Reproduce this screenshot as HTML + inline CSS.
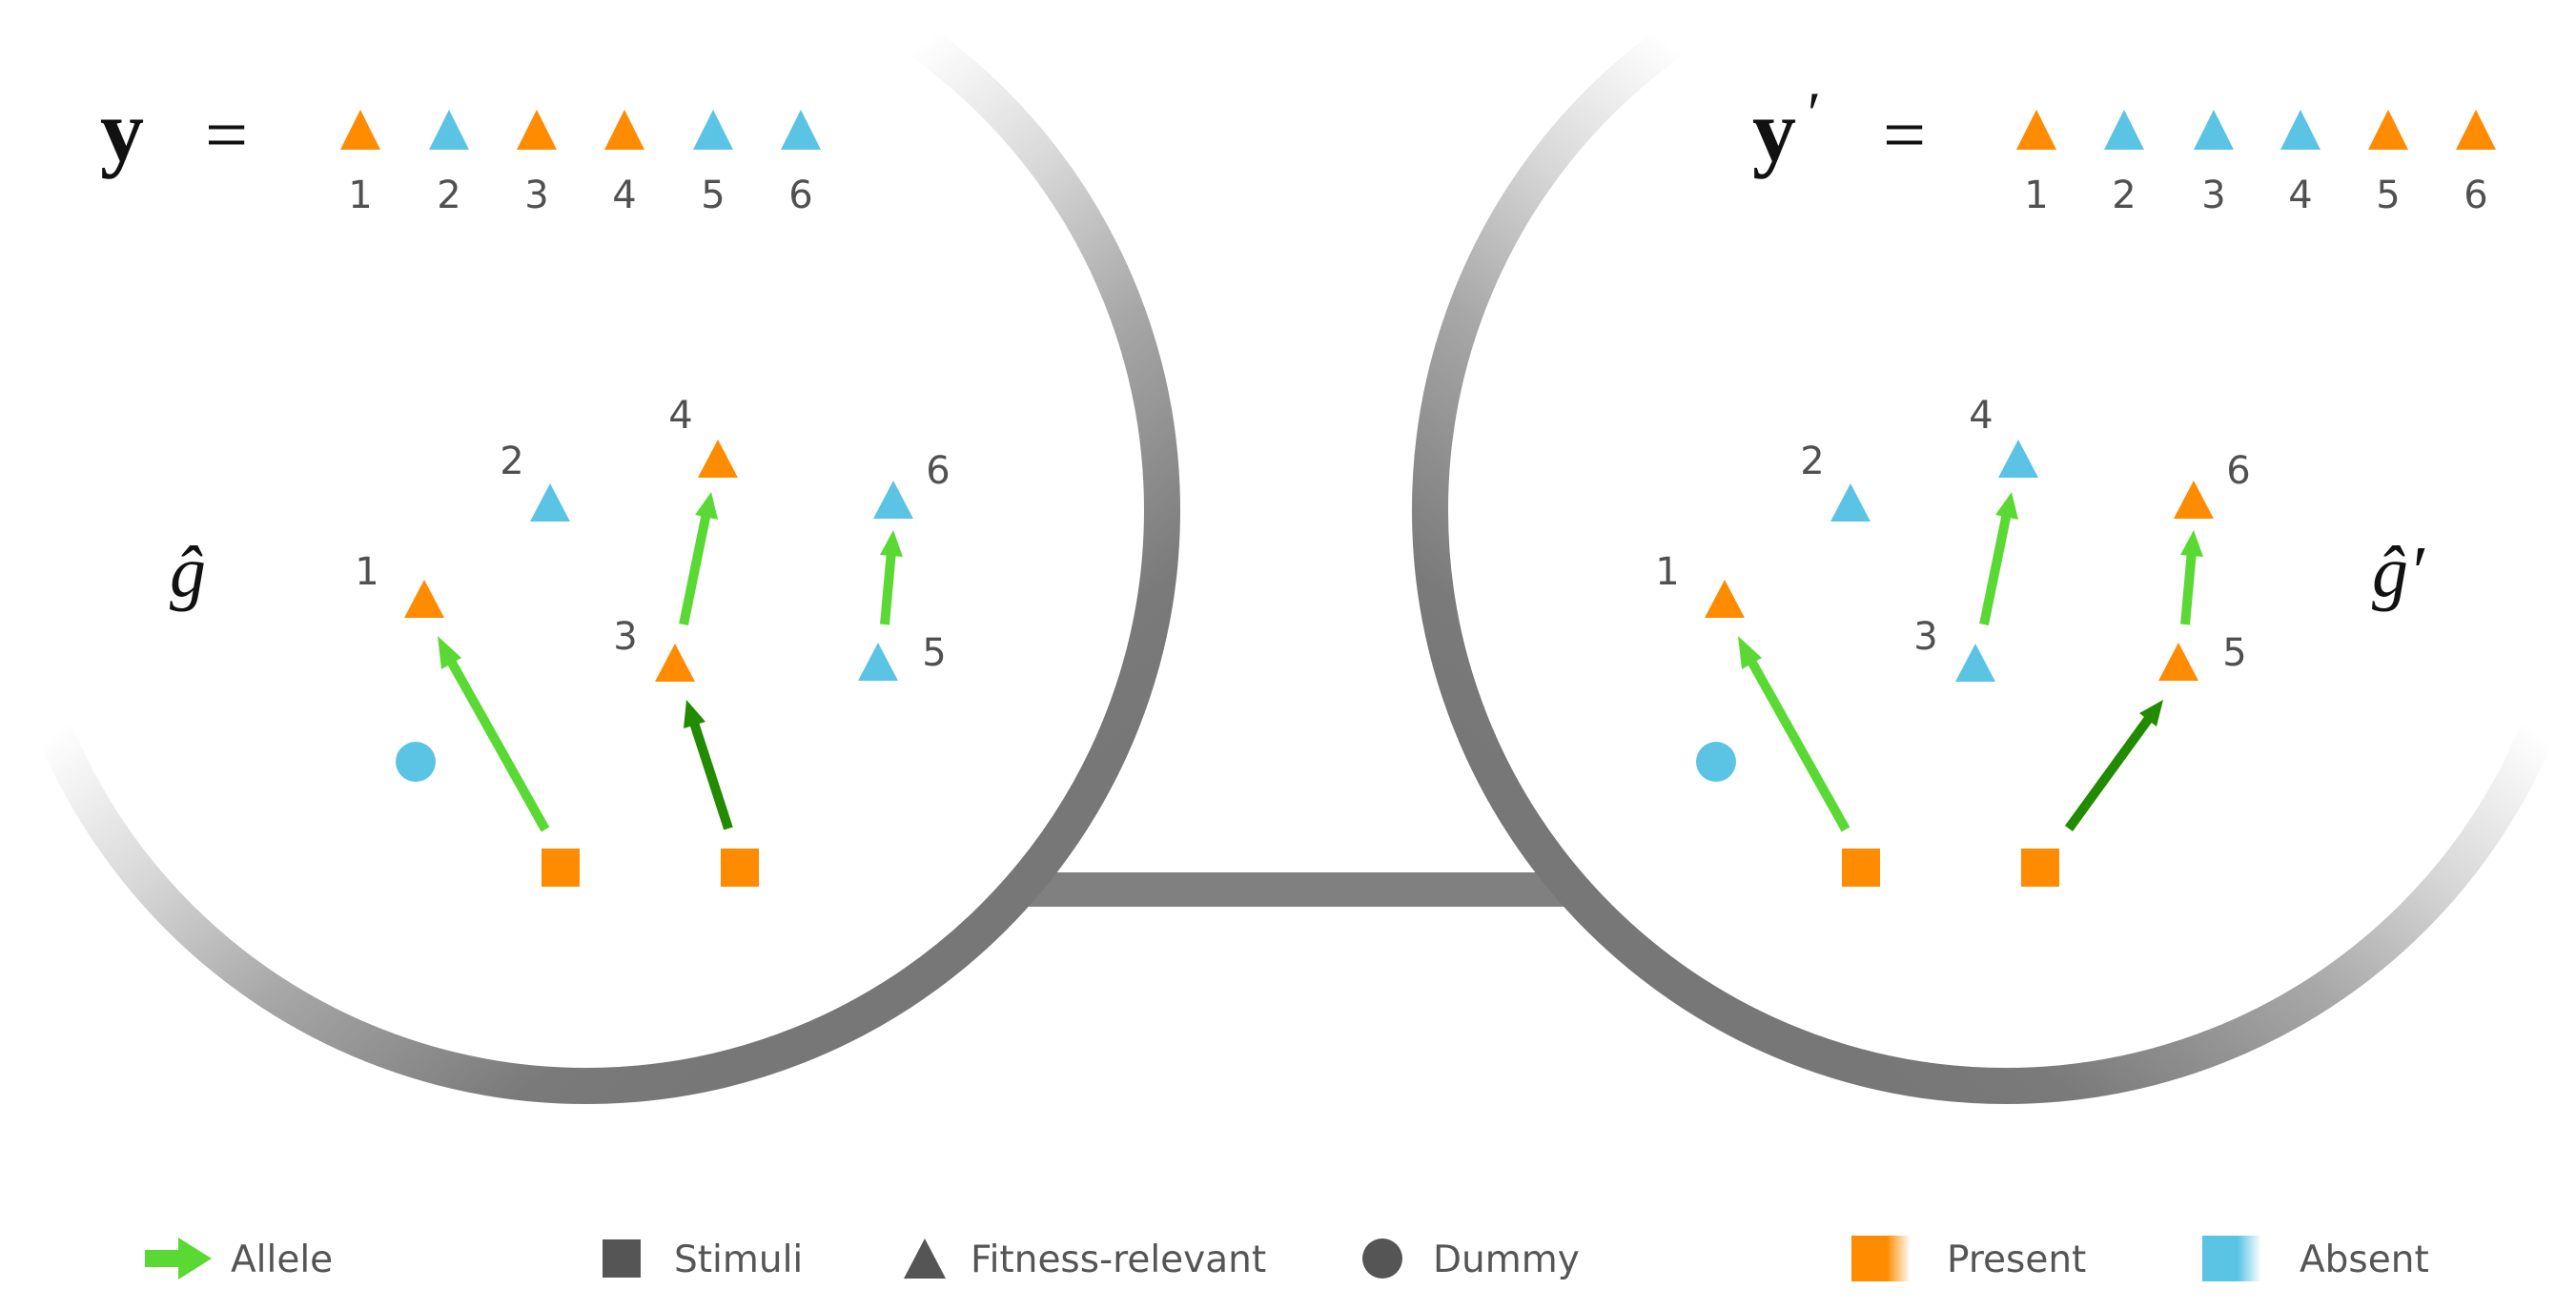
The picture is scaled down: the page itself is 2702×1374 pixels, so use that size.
<!DOCTYPE html>
<html><head><meta charset="utf-8"><style>
html,body{margin:0;padding:0;background:#fff}
svg{display:block}
.n{font-family:"DejaVu Sans","Liberation Sans",sans-serif;font-size:40px;fill:#505050;text-anchor:middle}
.l{font-family:"DejaVu Sans","Liberation Sans",sans-serif;font-size:39px;fill:#555}
.m{font-family:"Liberation Serif","DejaVu Serif",serif;fill:#111}
</style></head><body>
<svg width="2702" height="1374" viewBox="0 0 2702 1374" xmlns="http://www.w3.org/2000/svg">
<defs>
<linearGradient id="gl" gradientUnits="userSpaceOnUse" x1="397" y1="499" x2="837" y2="1053">
<stop offset="0" stop-color="#fff"/><stop offset="0.25" stop-color="#d8d8d8"/><stop offset="0.5" stop-color="#a8a8a8"/><stop offset="0.85" stop-color="#7a7a7a"/><stop offset="1" stop-color="#777"/></linearGradient>
<linearGradient id="gr" gradientUnits="userSpaceOnUse" x1="2322" y1="499" x2="1882" y2="1053">
<stop offset="0" stop-color="#fff"/><stop offset="0.25" stop-color="#d8d8d8"/><stop offset="0.5" stop-color="#a8a8a8"/><stop offset="0.85" stop-color="#7a7a7a"/><stop offset="1" stop-color="#777"/></linearGradient>
<linearGradient id="po" x1="0" x2="1"><stop offset="0.6" stop-color="#ff8c00"/><stop offset="1" stop-color="#ff8c00" stop-opacity="0"/></linearGradient>
<linearGradient id="pb" x1="0" x2="1"><stop offset="0.6" stop-color="#5bc4e5"/><stop offset="1" stop-color="#5bc4e5" stop-opacity="0"/></linearGradient>
</defs>
<rect x="1060" y="915" width="600" height="36" fill="#808080"/>
<circle cx="615" cy="535" r="604" fill="#fff" stroke="url(#gl)" stroke-width="38"/>
<circle cx="2104" cy="535" r="604" fill="#fff" stroke="url(#gr)" stroke-width="38"/>
<!-- top sequences -->
<text class="m" x="105" y="168" font-size="92" font-weight="bold">y</text>
<text class="m" x="215" y="168" font-size="80">=</text>
<text class="m" x="1838" y="168" font-size="92" font-weight="bold">y</text>
<text class="m" x="1892" y="140" font-size="64" font-style="italic">′</text>
<text class="m" x="1975" y="168" font-size="80">=</text>
<path d="M378,115 L399,157 L357,157Z" fill="#ff8c00"/>
<path d="M471,115 L492,157 L450,157Z" fill="#5bc4e5"/>
<path d="M563,115 L584,157 L542,157Z" fill="#ff8c00"/>
<path d="M655,115 L676,157 L634,157Z" fill="#ff8c00"/>
<path d="M748,115 L769,157 L727,157Z" fill="#5bc4e5"/>
<path d="M840,115 L861,157 L819,157Z" fill="#5bc4e5"/>
<text class="n" x="378" y="218">1</text><text class="n" x="471" y="218">2</text><text class="n" x="563" y="218">3</text><text class="n" x="655" y="218">4</text><text class="n" x="748" y="218">5</text><text class="n" x="840" y="218">6</text>
<g transform="translate(-8,0)">
<path d="M2144,115 L2165,157 L2123,157Z" fill="#ff8c00"/>
<path d="M2236,115 L2257,157 L2215,157Z" fill="#5bc4e5"/>
<path d="M2330,115 L2351,157 L2309,157Z" fill="#5bc4e5"/>
<path d="M2421,115 L2442,157 L2400,157Z" fill="#5bc4e5"/>
<path d="M2513,115 L2534,157 L2492,157Z" fill="#ff8c00"/>
<path d="M2605,115 L2626,157 L2584,157Z" fill="#ff8c00"/>
<text class="n" x="2144" y="218">1</text><text class="n" x="2236" y="218">2</text><text class="n" x="2330" y="218">3</text><text class="n" x="2421" y="218">4</text><text class="n" x="2513" y="218">5</text><text class="n" x="2605" y="218">6</text>
</g>
<!-- left graph -->
<text class="m" x="178" y="625" font-size="76" font-style="italic">ĝ</text>
<line x1="572" y1="870" x2="470" y2="688" stroke="#5ad934" stroke-width="10"/>
<path d="M459,667 L484,690 L463,702Z" fill="#5ad934"/>
<line x1="764" y1="869" x2="726" y2="752" stroke="#228b00" stroke-width="10"/>
<path d="M720,734 L740,757 L717,764Z" fill="#228b00"/>
<line x1="717" y1="655" x2="741" y2="538" stroke="#5ad934" stroke-width="10"/>
<path d="M746,516 L753,545 L729,540Z" fill="#5ad934"/>
<line x1="928" y1="655" x2="935" y2="578" stroke="#5ad934" stroke-width="10"/>
<path d="M937,556 L947,584 L923,582Z" fill="#5ad934"/>
<path d="M445,608 L466,648 L424,648Z" fill="#ff8c00"/>
<path d="M577,507 L598,547 L556,547Z" fill="#5bc4e5"/>
<path d="M753,461 L774,501 L732,501Z" fill="#ff8c00"/>
<path d="M708,675 L729,715 L687,715Z" fill="#ff8c00"/>
<path d="M937,504 L958,544 L916,544Z" fill="#5bc4e5"/>
<path d="M921,674 L942,714 L900,714Z" fill="#5bc4e5"/>
<circle cx="436" cy="799" r="21" fill="#5bc4e5"/>
<rect x="568" y="890" width="40" height="40" fill="#ff8c00"/>
<rect x="756" y="890" width="40" height="40" fill="#ff8c00"/>
<text class="n" x="385" y="613">1</text><text class="n" x="537" y="497">2</text><text class="n" x="714" y="449">4</text><text class="n" x="656" y="681">3</text><text class="n" x="984" y="507">6</text><text class="n" x="980" y="698">5</text>
<!-- right graph -->
<text class="m" x="2488" y="625" font-size="76" font-style="italic">ĝ′</text>
<g transform="translate(-8,0)">
<line x1="1944" y1="870" x2="1842" y2="688" stroke="#5ad934" stroke-width="10"/>
<path d="M1831,667 L1856,690 L1835,702Z" fill="#5ad934"/>
<line x1="2178" y1="869" x2="2263" y2="752" stroke="#228b00" stroke-width="10"/>
<path d="M2277,734 L2270,762 L2252,748Z" fill="#228b00"/>
<line x1="2089" y1="655" x2="2113" y2="538" stroke="#5ad934" stroke-width="10"/>
<path d="M2118,516 L2125,545 L2101,540Z" fill="#5ad934"/>
<line x1="2300" y1="655" x2="2307" y2="578" stroke="#5ad934" stroke-width="10"/>
<path d="M2309,556 L2319,584 L2295,582Z" fill="#5ad934"/>
<path d="M1817,608 L1838,648 L1796,648Z" fill="#ff8c00"/>
<path d="M1949,507 L1970,547 L1928,547Z" fill="#5bc4e5"/>
<path d="M2125,461 L2146,501 L2104,501Z" fill="#5bc4e5"/>
<path d="M2080,675 L2101,715 L2059,715Z" fill="#5bc4e5"/>
<path d="M2309,504 L2330,544 L2288,544Z" fill="#ff8c00"/>
<path d="M2293,674 L2314,714 L2272,714Z" fill="#ff8c00"/>
<circle cx="1808" cy="799" r="21" fill="#5bc4e5"/>
<rect x="1940" y="890" width="40" height="40" fill="#ff8c00"/>
<rect x="2128" y="890" width="40" height="40" fill="#ff8c00"/>
<text class="n" x="1757" y="613">1</text><text class="n" x="1909" y="497">2</text><text class="n" x="2086" y="449">4</text><text class="n" x="2028" y="681">3</text><text class="n" x="2356" y="507">6</text><text class="n" x="2352" y="698">5</text>
</g>
<!-- legend -->
<path d="M152,1311 L187,1311 L187,1298 L222,1320 L187,1342 L187,1329 L152,1329Z" fill="#5ad934"/>
<text class="l" x="242" y="1334">Allele</text>
<rect x="632" y="1300" width="40" height="40" fill="#555"/>
<text class="l" x="707" y="1334">Stimuli</text>
<path d="M970,1299 L992,1341 L948,1341Z" fill="#555"/>
<text class="l" x="1018" y="1334">Fitness-relevant</text>
<circle cx="1450" cy="1320" r="21" fill="#555"/>
<text class="l" x="1503" y="1334">Dummy</text>
<rect x="1942" y="1296" width="62" height="48" fill="url(#po)"/>
<text class="l" x="2042" y="1334">Present</text>
<rect x="2310" y="1296" width="62" height="48" fill="url(#pb)"/>
<text class="l" x="2412" y="1334">Absent</text>
</svg>
</body></html>
